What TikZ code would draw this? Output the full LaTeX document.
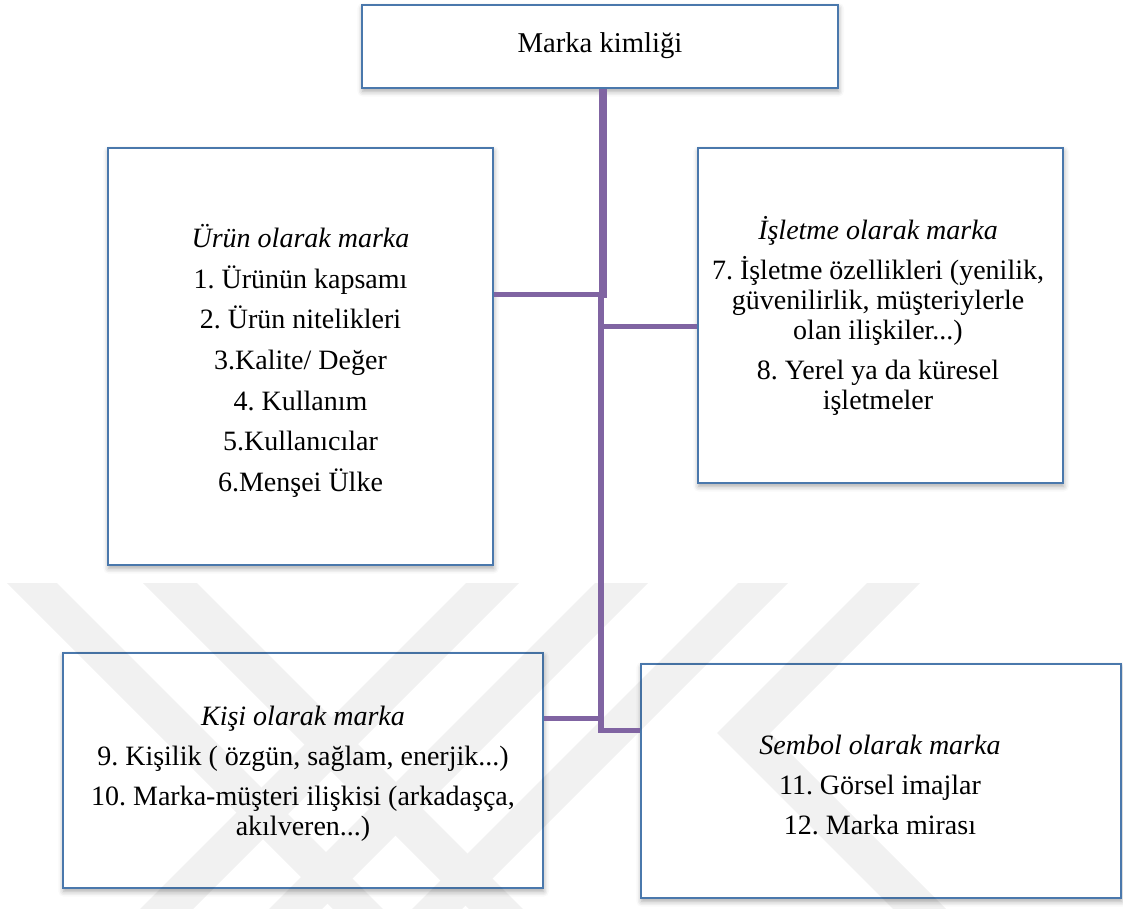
\documentclass[tikz,border=0pt]{standalone}
\usepackage{fontspec}
\setmainfont{Liberation Serif}
\usetikzlibrary{shadows.blur,calc}

\definecolor{boxblue}{HTML}{4A78AC}
\definecolor{linkpurple}{HTML}{8064A2}

\tikzset{
  box/.style={draw=boxblue, line width=1.5pt, fill=white, inner sep=0pt,
    blur shadow={shadow xshift=0.5pt, shadow yshift=-2.5pt,
      shadow blur radius=4pt, shadow opacity=35}},
  txt/.style={align=center, inner sep=0pt, text=black,
    font=\fontsize{21}{22.5}\selectfont\frenchspacing},
  ttl/.style={txt, font=\fontsize{21.5}{23}\selectfont},
  trunk/.style={draw=linkpurple, line width=#1, line cap=butt},
  branch/.style={draw=linkpurple, line width=3.5pt, line cap=butt},
  mark band/.style={fill=black},
}

\begin{document}
\begin{tikzpicture}[x=0.75pt, y=-0.75pt]
\useasboundingbox (0,0) rectangle (1123,909);

% boxes
\node[box, minimum width=357pt, minimum height=62.25pt] (top) at (600,46.5) {};
\node[box, minimum width=288.75pt, minimum height=312.75pt] (urun) at (300.5,356.5) {};
\node[box, minimum width=273.75pt, minimum height=251.25pt] (isletme) at (880.5,315.5) {};
\node[box, minimum width=360pt, minimum height=176.25pt] (kisi) at (303,770.5) {};
\node[box, minimum width=360pt, minimum height=175.5pt] (sembol) at (881,781) {};

% faint background emblem
\begin{scope}[transparency group, opacity=0.055]
  \clip (0,583) rectangle (1123,909);
  \fill[mark band] (7,583) -- (57,583) -- (383,909) -- (333,909) -- cycle;
  \fill[mark band] (143,583) -- (197,583) -- (523,909) -- (469,909) -- cycle;
  \fill[mark band] (466,583) -- (519,583) -- (193,909) -- (140,909) -- cycle;
  \fill[mark band] (595,583) -- (648,583) -- (322,909) -- (269,909) -- cycle;
  \fill[mark band] (738,583) -- (788,583) -- (462,909) -- (412,909) -- cycle;
  \fill[mark band] (867,583) -- (920,583) -- (770,733) -- (946,909) -- (893,909) -- (717,733) -- cycle;
\end{scope}

% connectors
\coordinate (j1) at (602.5,294.5);
\coordinate (j2) at (600.5,326.5);
\coordinate (j3) at (600.5,718.5);
\coordinate (j4) at (600.5,730.5);
\draw[trunk=6pt] (top.south -| j1) -- ($(j1)+(0,3)$);
\draw[branch] (j1) -- (j1 -| urun.east);
\draw[trunk=4.5pt, line join=round] ($(j1 -| j4)+(0,-2)$) -- (j4);
\draw[branch, line join=round] ($(j4)+(-2.5,0)$) -- (j4 -| sembol.west);
\draw[branch] (j2) -- (j2 -| isletme.west);
\draw[branch] (j3) -- (j3 -| kisi.east);

% texts
\node[ttl] (tTop) at (600,46) {Marka kimliği};
\node[txt] (tUrun) at (300.5,361) {\textit{Ürün olarak marka}\\[8pt]
1. Ürünün kapsamı\\[8pt]
2. Ürün nitelikleri\\[8pt]
3.Kalite/ Değer\\[8pt]
4. Kullanım\\[8pt]
5.Kullanıcılar\\[8pt]
6.Menşei Ülke};
\node[txt] (tIsletme) at (878,316) {\textit{İşletme olarak marka}\\[7.5pt]
7. İşletme özellikleri (yenilik,\\
güvenilirlik, müşteriylerle\\
olan ilişkiler...)\\[7.5pt]
8. Yerel ya da küresel\\
işletmeler};
\node[txt] (tKisi) at (303,774) {\textit{Kişi olarak marka}\\[7.5pt]
9. Kişilik ( özgün, sağlam, enerjik...)\\[7.5pt]
10. Marka-müşteri ilişkisi (arkadaşça,\\
akılveren...)};
\node[txt] (tSembol) at (880,785) {\textit{Sembol olarak marka}\\[7.5pt]
11. Görsel imajlar\\[7.5pt]
12. Marka mirası};
\end{tikzpicture}
\end{document}
